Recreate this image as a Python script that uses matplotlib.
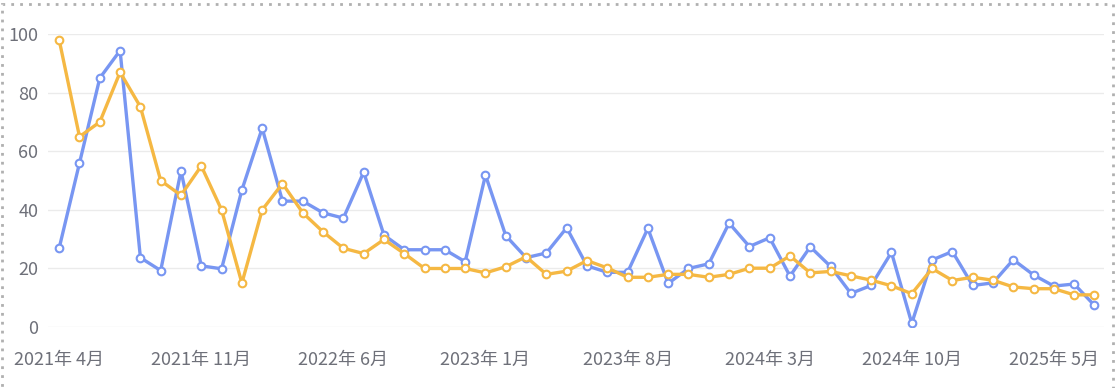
import matplotlib
matplotlib.use("Agg")
import matplotlib.pyplot as plt
from matplotlib.patches import Rectangle

plt.rcParams['font.family'] = ['Noto Sans CJK SC', 'DejaVu Sans']

# monthly series, 2021-04 .. 2025-07
months = [f"{2021 + (3 + i) // 12}年 {(3 + i) % 12 + 1}月" for i in range(52)]

blue = [27, 56, 85, 94.4, 23.7, 19.3, 53.3, 20.9, 19.9, 46.8,
        67.9, 43, 43, 39, 37.2, 52.9, 31.4, 26.4, 26.4, 26.4,
        22.3, 51.9, 31.2, 23.7, 25.3, 33.9, 20.9, 18.7, 18.7, 33.7,
        14.9, 20, 21.6, 35.5, 27.5, 30.5, 17.4, 27.4, 20.7, 11.5,
        14.2, 25.5, 1.3, 22.9, 25.8, 14.2, 15.1, 23, 17.8, 14,
        14.7, 7.4]
orange = [98, 65, 70, 87, 75.2, 50, 45, 55, 40, 15,
          40, 49, 39, 32.5, 26.9, 25.1, 29.9, 25.1, 20, 20,
          20, 18.5, 20.6, 24, 18, 19.1, 22.7, 20.2, 17, 17,
          18, 18, 17, 18, 20.1, 20.1, 24.3, 18.5, 19, 17.5,
          16, 14.1, 11.4, 20, 15.9, 17, 16, 13.7, 13.1, 13.1,
          11, 11]

BLUE = "#7896f2"
ORANGE = "#f5b843"
TXT = "#6e7079"

fig = plt.figure(figsize=(11.17, 3.88), dpi=100)
ax = fig.add_axes([0.043, 0.157, 0.945, 0.755])

x = list(range(len(months)))
ax.plot(x, blue, color=BLUE, lw=2.4, marker="o", ms=5.5,
        mfc="white", mec=BLUE, mew=1.5, zorder=3)
ax.plot(x, orange, color=ORANGE, lw=2.4, marker="o", ms=5.5,
        mfc="white", mec=ORANGE, mew=1.5, zorder=3)

ax.set_ylim(0, 100)
ax.set_xlim(-0.55, 51.45)
ax.set_yticks(range(0, 101, 20))
ax.set_xticks(x[::7])
ax.set_xticklabels(months[::7])
ax.grid(axis="y", color="#ebebeb", lw=1)
ax.set_axisbelow(True)
for s in ax.spines.values():
    s.set_visible(False)
ax.tick_params(length=0, colors=TXT, labelsize=13)
ax.tick_params(axis="x", pad=17)
ax.tick_params(axis="y", pad=7)

# dotted frame round the figure
fig.patches.append(Rectangle((0.002, -0.05), 0.994, 1.04, transform=fig.transFigure,
                             fill=False, ec="#b0b0b0", lw=2, ls=(0, (1, 2.2))))

fig.savefig("out.png", dpi=100)
